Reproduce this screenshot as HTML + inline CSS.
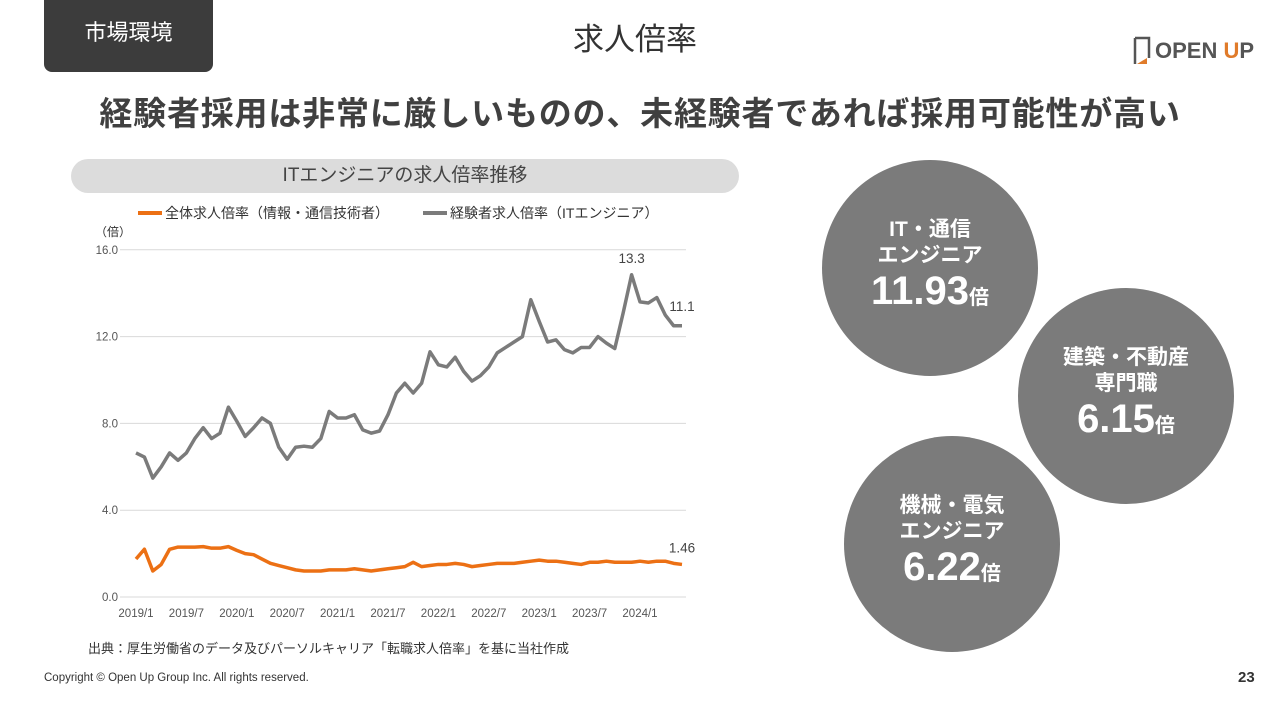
<!DOCTYPE html>
<html><head><meta charset="utf-8"><style>
body{margin:0;width:1280px;height:719px;background:#fff;font-family:"Liberation Sans","Noto Sans CJK JP",sans-serif;position:relative;overflow:hidden}
.abs{position:absolute}
.circ{position:absolute;border-radius:50%;background:#7b7b7b;color:#fff;text-align:center;font-weight:bold;display:flex;flex-direction:column;justify-content:center;align-items:center}
</style></head><body>
<div class="abs" style="left:44px;top:0;width:169px;height:72px;background:#3c3c3c;border-radius:0 0 8px 8px;color:#fff;font-size:22px;line-height:66px;text-align:center">市場環境</div>
<div class="abs" style="left:535px;top:14px;width:200px;text-align:center;font-size:31px;color:#333">求人倍率</div>
<div class="abs" style="left:1133px;top:36px;height:30px;display:flex;align-items:center">
<svg width="22" height="30" viewBox="0 0 22 30"><path d="M2 2 L16 2 L16 22" stroke="#555" stroke-width="2.5" fill="none"/><path d="M2 2 L2 28" stroke="#555" stroke-width="2.5"/><path d="M4 28 L14 22 L14 28Z" fill="#e07b2a"/></svg>
<span style="font-size:22px;font-weight:bold;color:#555;font-family:'Liberation Sans Narrow','Liberation Sans',sans-serif">OPEN <span style="color:#e07b2a">U</span>P</span></div>
<div class="abs" style="left:0;width:1280px;top:87px;text-align:center;font-size:33px;letter-spacing:0.8px;font-weight:bold;color:#404040">経験者採用は非常に厳しいものの、未経験者であれば採用可能性が高い</div>
<div class="abs" style="left:71px;top:159px;width:668px;height:34px;background:#dcdcdc;border-radius:17px;text-align:center;line-height:34px;font-size:19px;color:#444">ITエンジニアの求人倍率推移</div>
<svg class="abs" style="left:0;top:0" width="1280" height="719" id="chart"></svg>
<div class="abs" style="left:88px;top:638px;font-size:13px;color:#333">出典：厚生労働省のデータ及びパーソルキャリア「転職求人倍率」を基に当社作成</div>
<div class="abs" style="left:44px;top:672px;font-size:11.5px;color:#333">Copyright © Open Up Group Inc. All rights reserved.</div>
<div class="abs" style="left:1238px;top:669px;font-size:15px;font-weight:bold;color:#333">23</div>
<div class="circ" style="left:822px;top:160px;width:216px;height:216px"><div style="font-size:21px;line-height:26px">IT・通信<br>エンジニア</div><div style="font-size:40px;line-height:44px">11.93<span style="font-size:20px">倍</span></div></div>
<div class="circ" style="left:1018px;top:288px;width:216px;height:216px"><div style="font-size:21px;line-height:26px">建築・不動産<br>専門職</div><div style="font-size:40px;line-height:44px">6.15<span style="font-size:20px">倍</span></div></div>
<div class="circ" style="left:844px;top:436px;width:216px;height:216px"><div style="font-size:21px;line-height:26px">機械・電気<br>エンジニア</div><div style="font-size:40px;line-height:44px">6.22<span style="font-size:20px">倍</span></div></div>
<script>
const grayValues=[6.64,6.45,5.48,6.0,6.64,6.3,6.64,7.3,7.8,7.3,7.55,8.75,8.1,7.4,7.8,8.25,8.0,6.9,6.35,6.9,6.95,6.9,7.3,8.55,8.25,8.25,8.4,7.7,7.55,7.65,8.4,9.4,9.85,9.4,9.85,11.3,10.7,10.6,11.05,10.4,9.95,10.2,10.6,11.25,11.5,11.75,12.0,13.7,12.7,11.75,11.85,11.4,11.25,11.5,11.5,12.0,11.7,11.45,13.1,14.85,13.6,13.55,13.8,13.0,12.5,12.5];
const orangeValues=[1.75,2.2,1.2,1.5,2.2,2.3,2.3,2.3,2.32,2.25,2.25,2.32,2.15,2.0,1.95,1.75,1.55,1.45,1.35,1.25,1.2,1.2,1.2,1.25,1.25,1.25,1.3,1.25,1.2,1.25,1.3,1.35,1.4,1.6,1.4,1.45,1.5,1.5,1.55,1.5,1.4,1.45,1.5,1.55,1.55,1.55,1.6,1.65,1.7,1.65,1.65,1.6,1.55,1.5,1.6,1.6,1.65,1.6,1.6,1.6,1.65,1.6,1.65,1.65,1.55,1.5];
const yTicks=[0,4,8,12,16];
const yTickLabels=["0.0","4.0","8.0","12.0","16.0"];
const xTickLabels=["2019/1","2019/7","2020/1","2020/7","2021/1","2021/7","2022/1","2022/7","2023/1","2023/7","2024/1"];
const annotations=[{i:59,text:"13.3",s:"gray"},{i:65,text:"11.1",s:"gray"},{i:65,text:"1.46",s:"orange"}];
const svg=document.getElementById('chart');const NS='http://www.w3.org/2000/svg';
const X=i=>136+i*8.4, Y=v=>597-v*21.7;
function mk(t,a,txt){const e=document.createElementNS(NS,t);for(const k in a)e.setAttribute(k,a[k]);if(txt!==undefined)e.textContent=txt;svg.appendChild(e);return e;}
yTicks.forEach((v,k)=>{const l=mk('line',{x1:120,x2:686,y1:Y(v),y2:Y(v),stroke:'#d9d9d9','stroke-width':1});


const t=mk('text',{x:118,y:Y(v)+4,'text-anchor':'end','font-size':11.5,fill:'#555'},yTickLabels[k]);

});
xTickLabels.forEach((s,k)=>{const t=mk('text',{x:X(k*6),y:617,'text-anchor':'middle','font-size':11.5,fill:'#555'},s);

});
const yt=mk('text',{x:95,y:236,'font-size':12,fill:'#333'},'（倍）');


const pg=mk('polyline',{points:grayValues.map((v,i)=>X(i)+','+Y(v)).join(' '),fill:'none',stroke:'#7b7b7b','stroke-width':3.5,'stroke-linejoin':'round'});


const po=mk('polyline',{points:orangeValues.map((v,i)=>X(i)+','+Y(v)).join(' '),fill:'none',stroke:'#ec7014','stroke-width':3.5,'stroke-linejoin':'round'});


annotations.forEach(a=>{const v=(a.s==='gray'?grayValues:orangeValues)[a.i];const t=mk('text',{x:X(a.i),y:Y(v)-(a.i===65&&a.s==='gray'?15:12),'text-anchor':'middle','font-size':13.5,fill:'#444'},a.text);

});
const l1=mk('line',{x1:138,x2:162,y1:213,y2:213,stroke:'#ec7014','stroke-width':4});


const t1=mk('text',{x:165,y:218,'font-size':14,fill:'#333'},'全体求人倍率（情報・通信技術者）');


const l2=mk('line',{x1:423,x2:447,y1:213,y2:213,stroke:'#7b7b7b','stroke-width':4});


const t2=mk('text',{x:450,y:218,'font-size':14,fill:'#333'},'経験者求人倍率（ITエンジニア）');


</script>
</body></html>
